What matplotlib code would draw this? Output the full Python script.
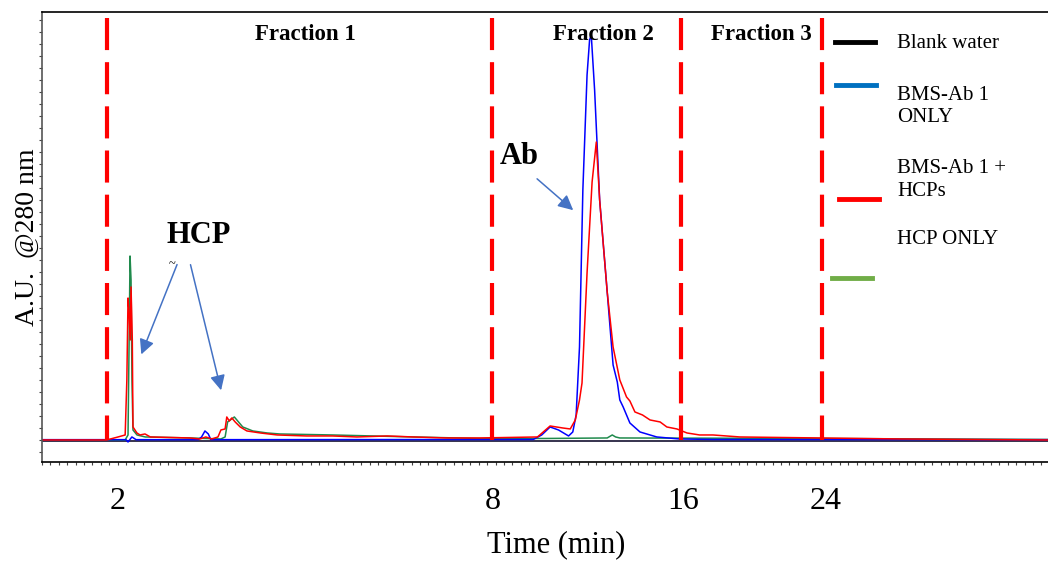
import matplotlib
matplotlib.use("Agg")
import matplotlib.pyplot as plt
from matplotlib.ticker import MultipleLocator, FixedLocator, NullFormatter
from matplotlib.lines import Line2D

plt.rcParams['font.family'] = ['Liberation Serif', 'DejaVu Serif']

# retention axis (arbitrary scan units) and absorbance (mAU)
blank_x = [0, 119.8]
blank_y = [-1, -1]

ab_x = [0, 10.0, 10.24, 10.7, 11.2, 18.6, 19.0, 19.4, 19.8, 20.1, 58.5, 59.5, 60.5, 61.5,
        62.7, 63.2, 63.6, 64.0, 64.4, 64.9, 65.2, 65.4, 65.8, 66.4, 67.3, 68.0, 68.5, 68.8,
        69.2, 70.0, 71.2, 73.2, 75.9, 80.0, 119.8]
ab_y = [0.3, 0.3, -2, 3, 0.3, 0.3, 3, 9, 6, 0.3, 0.5, 5, 13, 10,
        4, 8, 25, 93, 250, 365, 400, 405, 350, 240, 148, 75, 58, 40,
        33, 17, 8, 3, 1, 0.5, 0.3]

mix_x = [0, 7.7, 9.05, 9.9, 10.1, 10.24, 10.35, 10.5, 10.6, 10.75, 10.83, 11.3, 11.67, 12.26,
         12.9, 17.6, 18.8, 19.5, 20.2, 20.95, 21.3, 21.8, 22.0, 22.3, 22.6, 23.0, 23.6, 24.4,
         26.0, 28.0, 31.5, 34.6, 37.5, 41.1, 44.2, 48.2, 52.1, 59.0, 60.5, 62.0, 62.9, 63.5,
         64.0, 64.3, 64.9, 65.5, 66.0, 66.4, 67.3, 68.0, 68.8, 69.6, 70.0, 70.6, 71.5, 72.4,
         73.6, 74.4, 75.6, 76.8, 78.3, 79.9, 83.1, 92.6, 102.1, 119.8]
mix_y = [0, 0, 3, 5, 60, 142, 130, 100, 153, 100, 13, 7, 5, 6,
         3, 2, 1, 3, 1, 3, 10, 11, 23, 19, 22, 18, 13, 9,
         7, 5, 4, 4, 3, 4, 3, 2, 2, 3, 14, 12, 11, 20,
         40, 57, 167, 258, 298, 240, 148, 93, 60, 43, 39, 28, 25, 20,
         18, 13, 11, 7, 5, 5, 3, 2, 1, 0]

hcp_x = [0, 9.9, 10.24, 10.4, 10.48, 10.6, 10.71, 10.83, 11.31, 12.3, 17.6, 21.3, 21.8, 22.1,
         22.9, 23.2, 23.9, 25.1, 26.8, 28.3, 34.6, 39.4, 44.2, 52.1, 60.0, 67.3, 67.9, 68.3,
         68.8, 92.6, 119.8]
hcp_y = [0, 0, 5, 120, 184, 160, 60, 10, 5, 3, 2, 1, 3, 18,
         23, 20, 13, 9, 7, 6, 5, 4, 3, 1.5, 1.5, 2, 5, 3,
         2, 1.5, 0.5]

cut_x = [7.74, 53.6, 76.1, 92.9]
tick_pos = [9.05, 53.7, 76.3, 93.3]
tick_lab = ['2', '8', '16', '24']
frac_names = ['Fraction 1', 'Fraction 2', 'Fraction 3']
frac_pos = [31.3, 66.8, 85.7]

fig = plt.figure(figsize=(10.48, 5.62), dpi=100)
ax = fig.add_axes([0.0401, 0.178, 0.96, 0.8006])

ax.plot(blank_x, blank_y, color='#141030', lw=1.2)
ax.plot(hcp_x, hcp_y, color='#1f8a4c', lw=1.1)
ax.plot(ab_x, ab_y, color='#0000ff', lw=1.1)
ax.plot(mix_x, mix_y, color='#ff0000', lw=1.1)

for c in cut_x:
    ax.plot([c, c], [422, 0], color='#ff0000', lw=3, dashes=(7.7, 2.9))

for name, p in zip(frac_names, frac_pos):
    ax.text(p, 406, name, ha='center', va='center', fontsize=16.5, fontweight='bold')

ax.text(18.6, 204, 'HCP', ha='center', va='center', fontsize=22, fontweight='bold')
ax.text(56.8, 284, 'Ab', ha='center', va='center', fontsize=22, fontweight='bold')
ax.text(15.5, 176, '~', ha='center', va='center', fontsize=9)

arr = dict(arrowstyle='-|>,head_length=0.9,head_width=0.45', color='#4472c4', lw=1.1)
ax.annotate('', xy=(11.7, 83), xytext=(16.2, 178), arrowprops=arr)
ax.annotate('', xy=(21.4, 47), xytext=(17.6, 178), arrowprops=arr)
ax.annotate('', xy=(63.5, 228), xytext=(58.7, 263), arrowprops=arr)

# legend drawn by hand to keep the original offsets
leg = [('#000000', 0.788, 0.934, 'Blank water', 0.929),
       ('#0070c0', 0.789, 0.838, 'BMS-Ab 1\nONLY', 0.790),
       ('#ff0000', 0.792, 0.585, 'BMS-Ab 1 +\nHCPs', 0.627),
       ('#70ad47', 0.785, 0.409, 'HCP ONLY', 0.494)]
for col, lx, ly, lab, ty in leg:
    ax.add_line(Line2D([lx, lx + 0.04], [ly, ly], transform=ax.transAxes,
                       color=col, lw=3.5))
    ax.text(0.85, ty, lab, transform=ax.transAxes, ha='left', va='center',
            fontsize=15, linespacing=1.25)

ax.set_xlim(0, 119.8)
ax.set_ylim(-22, 428)
ax.xaxis.set_major_locator(FixedLocator(tick_pos))
ax.set_xticklabels(tick_lab)
ax.xaxis.set_minor_locator(MultipleLocator(1))
ax.yaxis.set_major_locator(MultipleLocator(12))
ax.yaxis.set_major_formatter(NullFormatter())
ax.tick_params(axis='x', which='major', length=0, pad=18, labelsize=23)
ax.tick_params(axis='x', which='minor', length=2, width=0.8, color='#444444')
ax.tick_params(axis='y', which='major', length=2, width=0.8, color='#444444')
ax.spines['right'].set_visible(False)
ax.spines['left'].set_color('#555555')
ax.spines['left'].set_linewidth(1.2)
ax.spines['bottom'].set_linewidth(1.2)
ax.spines['top'].set_linewidth(1.2)

ax.set_ylabel('A.U.  @280 nm', fontsize=20, labelpad=-4)
ax.set_xlabel('Time (min)', fontsize=22)
ax.xaxis.set_label_coords(0.511, -0.152)

plt.savefig('out.png', dpi=100)
